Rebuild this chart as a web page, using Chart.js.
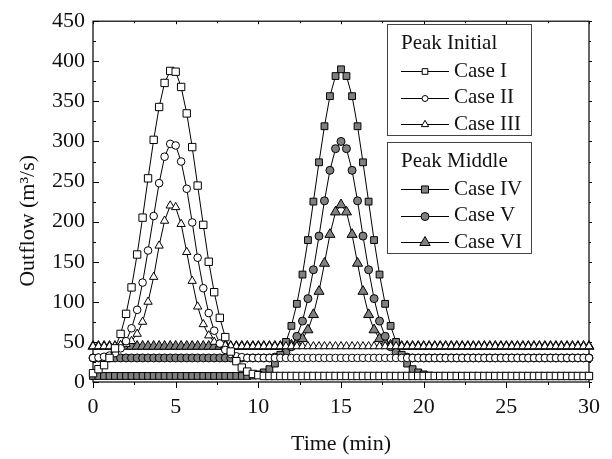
<!DOCTYPE html>
<html>
<head>
<meta charset="utf-8">
<script src="https://cdn.jsdelivr.net/npm/chart.js@4/dist/chart.umd.min.js"></script>
<style>
  html, body { margin: 0; padding: 0; background: #fff; }
  #wrap { width: 612px; height: 459px; }
</style>
</head>
<body>
<div id="wrap"><canvas id="outflow-canvas" width="612" height="459"></canvas></div>
<script>
// time step is 20 s (1/3 min)
const time = [
  0, 0.33, 0.67, 1, 1.33, 1.67, 2, 2.33, 2.67, 3,
  3.33, 3.67, 4, 4.33, 4.67, 5, 5.33, 5.67, 6, 6.33,
  6.67, 7, 7.33, 7.67, 8, 8.33, 8.67, 9, 9.33, 9.67,
  10, 10.33, 10.67, 11, 11.33, 11.67, 12, 12.33, 12.67, 13,
  13.33, 13.67, 14, 14.33, 14.67, 15, 15.33, 15.67, 16, 16.33,
  16.67, 17, 17.33, 17.67, 18, 18.33, 18.67, 19, 19.33, 19.67,
  20, 20.33, 20.67, 21, 21.33, 21.67, 22, 22.33, 22.67, 23,
  23.33, 23.67, 24, 24.33, 24.67, 25, 25.33, 25.67, 26, 26.33,
  26.67, 27, 27.33, 27.67, 28, 28.33, 28.67, 29, 29.33, 29.67,
  30
];

// Peak Initial
const case1 = [
  11, 16, 21, 30, 42, 60, 85, 118, 159, 205,
  254, 302, 343, 373, 388, 387, 368, 335, 293, 245,
  196, 150, 112, 80, 56, 38, 26, 18, 13, 10,
  8.5, 7.5, 7.5, 7.5, 7.5, 7.5, 7.5, 7.5, 7.5, 7.5,
  7.5, 7.5, 7.5, 7.5, 7.5, 7.5, 7.5, 7.5, 7.5, 7.5,
  7.5, 7.5, 7.5, 7.5, 7.5, 7.5, 7.5, 7.5, 7.5, 7.5,
  7.5, 7.5, 7.5, 7.5, 7.5, 7.5, 7.5, 7.5, 7.5, 7.5,
  7.5, 7.5, 7.5, 7.5, 7.5, 7.5, 7.5, 7.5, 7.5, 7.5,
  7.5, 7.5, 7.5, 7.5, 7.5, 7.5, 7.5, 7.5, 7.5, 7.5,
  7.5
];
const case2 = [
  30, 30.5, 31.5, 33, 36, 42, 51, 67, 90, 124,
  164, 207, 248, 281, 297, 295, 275, 241, 199, 155,
  117, 86, 64, 48, 40, 35, 32, 31, 30, 30,
  30, 30, 30, 30, 30, 30, 30, 30, 30, 30,
  30, 30, 30, 30, 30, 30, 30, 30, 30, 30,
  30, 30, 30, 30, 30, 30, 30, 30, 30, 30,
  30, 30, 30, 30, 30, 30, 30, 30, 30, 30,
  30, 30, 30, 30, 30, 30, 30, 30, 30, 30,
  30, 30, 30, 30, 30, 30, 30, 30, 30, 30,
  30
];
const case3 = [
  44.5, 44.5, 44.5, 44.5, 45, 46, 47.5, 51, 60, 75,
  100, 131, 170, 201, 220, 218, 197, 162, 126, 94,
  72, 58, 50, 47, 45.5, 45, 44.5, 44.5, 44.5, 44.5,
  44.5, 44.5, 44.5, 44.5, 44.5, 44.5, 44.5, 44.5, 44.5, 44.5,
  44.5, 44.5, 44.5, 44.5, 44.5, 44.5, 44.5, 44.5, 44.5, 44.5,
  44.5, 44.5, 44.5, 44.5, 44.5, 44.5, 44.5, 44.5, 44.5, 44.5,
  44.5, 44.5, 44.5, 44.5, 44.5, 44.5, 44.5, 44.5, 44.5, 44.5,
  44.5, 44.5, 44.5, 44.5, 44.5, 44.5, 44.5, 44.5, 44.5, 44.5,
  44.5, 44.5, 44.5, 44.5, 44.5, 44.5, 44.5, 44.5, 44.5, 44.5,
  44.5
];

// Peak Middle
const case4 = [
  7.5, 7.5, 7.5, 7.5, 7.5, 7.5, 7.5, 7.5, 7.5, 7.5,
  7.5, 7.5, 7.5, 7.5, 7.5, 7.5, 7.5, 7.5, 7.5, 7.5,
  7.5, 7.5, 7.5, 7.5, 7.5, 7.5, 7.5, 7.5, 7.5, 8,
  9.5, 12, 16, 23, 34, 50, 70, 97.5, 134, 177,
  225, 274, 319, 356.5, 381.6, 390, 381.6, 356.5, 319, 274,
  225, 177, 134, 97.5, 70, 50, 34, 23, 16, 12,
  9.5, 8, 7.5, 7.5, 7.5, 7.5, 7.5, 7.5, 7.5, 7.5,
  7.5, 7.5, 7.5, 7.5, 7.5, 7.5, 7.5, 7.5, 7.5, 7.5,
  7.5, 7.5, 7.5, 7.5, 7.5, 7.5, 7.5, 7.5, 7.5, 7.5,
  7.5
];
const case5 = [
  30, 30, 30, 30, 30, 30, 30, 30, 30, 30,
  30, 30, 30, 30, 30, 30, 30, 30, 30, 30,
  30, 30, 30, 30, 30, 30, 30, 30, 30, 30,
  30, 30, 30, 31, 33, 37, 44, 57, 76, 104,
  140, 182, 226, 264, 291, 300, 291, 264, 226, 182,
  140, 104, 76, 57, 44, 37, 33, 31, 30, 30,
  30, 30, 30, 30, 30, 30, 30, 30, 30, 30,
  30, 30, 30, 30, 30, 30, 30, 30, 30, 30,
  30, 30, 30, 30, 30, 30, 30, 30, 30, 30,
  30
];
const case6 = [
  44.5, 44.5, 44.5, 44.5, 44.5, 44.5, 44.5, 44.5, 44.5, 44.5,
  44.5, 44.5, 44.5, 44.5, 44.5, 44.5, 44.5, 44.5, 44.5, 44.5,
  44.5, 44.5, 44.5, 44.5, 44.5, 44.5, 44.5, 44.5, 44.5, 44.5,
  44.5, 44.5, 44.5, 44.5, 44.5, 45, 46, 48.5, 54, 65,
  84, 113, 148, 184, 212, 221, 212, 184, 148, 113,
  84, 65, 54, 48.5, 46, 45, 44.5, 44.5, 44.5, 44.5,
  44.5, 44.5, 44.5, 44.5, 44.5, 44.5, 44.5, 44.5, 44.5, 44.5,
  44.5, 44.5, 44.5, 44.5, 44.5, 44.5, 44.5, 44.5, 44.5, 44.5,
  44.5, 44.5, 44.5, 44.5, 44.5, 44.5, 44.5, 44.5, 44.5, 44.5,
  44.5
];

const caseNames = ['Case I', 'Case II', 'Case III', 'Case IV', 'Case V', 'Case VI'];
const groupNames = ['Peak Initial', 'Peak Middle'];
const xTicks = [0, 5, 10, 15, 20, 25, 30];
const yTicks = [0, 50, 100, 150, 200, 250, 300, 350, 400, 450];

const GREY = '#808080';
const FONT = "'Liberation Serif', 'Times New Roman', serif";
const markers = [
  {style: 'rect', fill: '#fff', r: 5.2, lr: 4},
  {style: 'circle', fill: '#fff', r: 3.8, lr: 3},
  {style: 'triangle', fill: '#fff', r: 4.8, lr: 4.2},
  {style: 'rect', fill: GREY, r: 4.8, lr: 5},
  {style: 'circle', fill: GREY, r: 4.0, lr: 4},
  {style: 'triangle', fill: GREY, r: 5.8, lr: 6}
];

function draw_marker(ctx, m, x, y, r){
  ctx.beginPath();
  if (m.style === 'rect') {
    const s = r * Math.SQRT1_2;
    ctx.rect(x - s, y - s, 2 * s, 2 * s);
  } else if (m.style === 'circle') {
    ctx.arc(x, y, r, 0, 2 * Math.PI);
  } else {
    ctx.moveTo(x, y - r);
    ctx.lineTo(x + r * 0.866, y + r / 2);
    ctx.lineTo(x - r * 0.866, y + r / 2);
    ctx.closePath();
  }
  ctx.fillStyle = m.fill;
  ctx.fill();
  ctx.strokeStyle = '#000';
  ctx.lineWidth = 1;
  ctx.stroke();
}

// frame + tick marks (inward on y, outward on bottom x)
const frame_plugin = {
  id: 'frame',
  beforeDatasetsDraw(chart){
    const ctx = chart.ctx;
    const a = chart.chartArea;
    const xs = chart.scales.x, ys = chart.scales.y;
    ctx.save();
    ctx.strokeStyle = '#000';
    ctx.lineWidth = 1.2;
    ctx.strokeRect(a.left, a.top, a.right - a.left, a.bottom - a.top);
    ctx.lineWidth = 1;
    ctx.beginPath();
    for (let v = 0; v <= 30; v += 2.5) {
      const px = Math.round(xs.getPixelForValue(v)) + 0.5;
      const major = v % 5 === 0;
      ctx.moveTo(px, a.bottom); ctx.lineTo(px, a.bottom + (major ? 6 : 3));
      ctx.moveTo(px, a.top); ctx.lineTo(px, a.top + (major ? 3 : 2));
    }
    for (let v = 0; v <= 450; v += 25) {
      const py = Math.round(ys.getPixelForValue(v)) + 0.5;
      const major = v % 50 === 0;
      ctx.moveTo(a.left, py); ctx.lineTo(a.left + (major ? 6 : 3), py);
      ctx.moveTo(a.right, py); ctx.lineTo(a.right + (major ? 3 : 2), py);
    }
    ctx.stroke();
    ctx.restore();
  }
};

// two boxed legends with group headings
const legend_plugin = {
  id: 'boxlegend',
  afterDraw(chart){
    const ctx = chart.ctx;
    const boxes = [{top: 24, bottom: 135, first: 0}, {top: 142, bottom: 253, first: 3}];
    ctx.save();
    boxes.forEach((b, g) => {
      ctx.fillStyle = '#fff';
      ctx.fillRect(387, b.top, 144, b.bottom - b.top);
      ctx.strokeStyle = '#444';
      ctx.lineWidth = 1;
      ctx.strokeRect(387.5, b.top + 0.5, 144, b.bottom - b.top);
      ctx.font = '21px ' + FONT;
      ctx.fillStyle = '#111';
      ctx.textBaseline = 'middle';
      ctx.textAlign = 'left';
      ctx.fillText(groupNames[g], 401, b.top + 19);
      for (let i = 0; i < 3; i++) {
        const idx = b.first + i;
        const y = b.top + 47 + i * 26.7;
        ctx.strokeStyle = '#000';
        ctx.beginPath();
        ctx.moveTo(401, Math.round(y) + 0.5);
        ctx.lineTo(449, Math.round(y) + 0.5);
        ctx.stroke();
        draw_marker(ctx, markers[idx], 425, Math.round(y) + 0.5, markers[idx].lr);
        ctx.fillStyle = '#111';
        ctx.fillText(caseNames[idx], 454, y);
      }
    });
    ctx.restore();
  }
};

const allCases = [case1, case2, case3, case4, case5, case6];

const datasets = allCases.map((vals, i) => ({
  label: caseNames[i],
  data: time.map((t, k) => ({x: t, y: vals[k]})),
  borderColor: '#000',
  borderWidth: 1,
  pointStyle: markers[i].style,
  pointRadius: markers[i].r,
  pointBackgroundColor: markers[i].fill,
  pointBorderColor: '#000',
  pointBorderWidth: 1,
  tension: 0,
  clip: false
}));

const ctx = document.getElementById('outflow-canvas');
const myChart = new Chart(ctx, {
  type: 'line',
  data: { datasets: datasets },
  plugins: [frame_plugin, legend_plugin],
  options: {
    animation: false,
    responsive: false,
    events: [],
    layout: { padding: { left: 0, top: 19, right: 22, bottom: 0 } },
    plugins: {
      legend: { display: false },
      tooltip: { enabled: false }
    },
    scales: {
      x: {
        type: 'linear',
        min: 0,
        max: 30,
        afterFit: (s) => { s.height = 77; },
        afterBuildTicks: (s) => { s.ticks = xTicks.map(v => ({value: v})); },
        grid: { display: false, drawTicks: false },
        border: { display: false },
        ticks: { color: '#111', padding: 12, font: { family: FONT, size: 22 } },
        title: {
          display: true,
          text: 'Time (min)',
          color: '#111',
          font: { family: FONT, size: 22 },
          padding: { top: 0, bottom: 2 }
        }
      },
      y: {
        min: 0,
        max: 450,
        afterFit: (s) => { s.width = 93; },
        afterBuildTicks: (s) => { s.ticks = yTicks.map(v => ({value: v})); },
        grid: { display: false, drawTicks: false },
        border: { display: false },
        ticks: { color: '#111', padding: 8, font: { family: FONT, size: 22 } },
        title: {
          display: true,
          // trailing spaces push the rotated label a little below the middle, as in the original
          text: 'Outflow (m\u00B3/s)\u00A0\u00A0\u00A0\u00A0\u00A0\u00A0\u00A0',
          color: '#111',
          font: { family: FONT, size: 22 },
          padding: { top: 15, bottom: 0 }
        }
      }
    }
  }
});
</script>
</body>
</html>
